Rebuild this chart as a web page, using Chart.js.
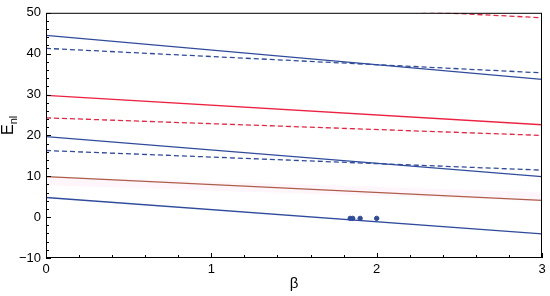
<!DOCTYPE html>
<html>
<head>
<meta charset="utf-8">
<script src="https://cdn.jsdelivr.net/npm/chart.js@4"></script>
<style>
  html, body { margin: 0; padding: 0; background: #fff; }
  #wrap { width: 550px; height: 296px; }
</style>
</head>
<body>
<div id="wrap"><canvas id="chart"></canvas></div>
<script>
// Data: each level is a straight line from beta=0 to beta=3
const BETA = [0, 3];
const BLUE_1 = [44.5, 33.7];
const BLUE_1_DASH = [41.3, 35.3];
const RED_1 = [29.8, 22.6];
const RED_1_DASH = [24.3, 20.0];
const BLUE_2 = [19.7, 9.9];
const BLUE_2_DASH = [16.3, 11.5];
const BROWN = [9.9, 4.1];
const BLUE_3 = [4.8, -4.1];
const RED_TOP_DASH = [54.8, 48.8];
const PINK_BAND = [8.9, 5.0];

// Scattered points near beta ~ 1.85 .. 2
const DOT_BETA = [1.84, 1.855, 1.9, 2.0];
const DOT_E = [-0.3, -0.3, -0.3, -0.3];

const X_LABELS = [0, 1, 2, 3];
const Y_LABELS = [-10, 0, 10, 20, 30, 40, 50];

const BLUE = '#2f4b9b';
const RED = '#ec2240';
const BROWN_COLOR = '#a6573a';
const FONT = 'Liberation Sans, Arial, Helvetica, sans-serif';

function toPoints(ys) {
    return BETA.map((b, i) => ({ x: b, y: ys[i] }));
}

function lineSet(ys, color, dashed) {
    return {
        type: 'line',
        data: toPoints(ys),
        borderColor: color,
        borderWidth: 1.3,
        borderDash: dashed ? [5, 3] : [],
        pointRadius: 0,
        fill: false
    };
}

// ======================
// Frame, inward ticks and axis titles
// ======================
const framePlugin = {
    id: 'frame',
    afterDraw(chart) {
        const { ctx, chartArea: a, scales } = chart;
        ctx.save();
        ctx.strokeStyle = '#000';
        ctx.lineWidth = 1;
        ctx.strokeRect(a.left + 0.5, a.top + 0.5, a.right - a.left - 1, a.bottom - a.top - 1);

        // x ticks every 0.2, bigger on integers
        for (let i = 0; i <= 15; i++) {
            const v = i * 0.2;
            const px = Math.round(scales.x.getPixelForValue(v)) + 0.5;
            const len = i % 5 === 0 ? 5 : 3;
            ctx.beginPath();
            ctx.moveTo(px, a.bottom);
            ctx.lineTo(px, a.bottom - len);
            ctx.stroke();
        }
        // y ticks every 2, bigger on tens
        for (let v = -10; v <= 50; v += 2) {
            const py = Math.round(scales.y.getPixelForValue(v)) + 0.5;
            const len = v % 10 === 0 ? 5 : 3;
            ctx.beginPath();
            ctx.moveTo(a.left, py);
            ctx.lineTo(a.left + len, py);
            ctx.stroke();
        }

        // axis titles
        ctx.fillStyle = '#000';
        ctx.textAlign = 'center';
        ctx.textBaseline = 'middle';
        ctx.font = '15px ' + FONT;
        ctx.fillText('\u03B2', (a.left + a.right) / 2, 284);

        ctx.translate(9, 135);
        ctx.rotate(-Math.PI / 2);
        ctx.textAlign = 'left';
        ctx.font = '16px ' + FONT;
        const wE = ctx.measureText('E').width;
        ctx.fillText('E', 0, 0);
        ctx.font = '11px ' + FONT;
        ctx.fillText('nl', wE, 5);
        ctx.restore();
    }
};

new Chart(document.getElementById('chart'), {
    type: 'line',
    data: {
        datasets: [
            {
                type: 'line',
                data: toPoints(PINK_BAND),
                borderColor: 'rgba(255, 150, 220, 0.09)',
                borderWidth: 9,
                pointRadius: 0
            },
            lineSet(RED_TOP_DASH, RED, true),
            lineSet(BLUE_1, BLUE, false),
            lineSet(BLUE_1_DASH, BLUE, true),
            lineSet(RED_1, RED, false),
            lineSet(RED_1_DASH, RED, true),
            lineSet(BLUE_2, BLUE, false),
            lineSet(BLUE_2_DASH, BLUE, true),
            lineSet(BROWN, BROWN_COLOR, false),
            lineSet(BLUE_3, BLUE, false),
            {
                type: 'scatter',
                data: DOT_BETA.map((b, i) => ({ x: b, y: DOT_E[i] })),
                backgroundColor: BLUE,
                borderColor: BLUE,
                pointRadius: 2.2,
                showLine: false
            }
        ]
    },
    options: {
        responsive: true,
        maintainAspectRatio: false,
        animation: false,
        layout: { padding: { top: 9, right: 8, left: 0, bottom: 0 } },
        plugins: {
            legend: { display: false },
            tooltip: { enabled: false }
        },
        scales: {
            x: {
                type: 'linear',
                min: 0,
                max: 3,
                grid: { display: false, drawTicks: false, tickLength: 0 },
                border: { display: false },
                afterFit(scale) { scale.height = 38; },
                ticks: {
                    stepSize: 0.2,
                    autoSkip: false,
                    maxRotation: 0,
                    padding: 4,
                    color: '#000',
                    font: { family: FONT, size: 13 },
                    callback: (v) => {
                        const r = Math.round(v);
                        return Math.abs(v - r) < 1e-6 && X_LABELS.includes(r) ? String(r) : '';
                    }
                }
            },
            y: {
                type: 'linear',
                min: -10,
                max: 50,
                grid: { display: false, drawTicks: false, tickLength: 0 },
                border: { display: false },
                afterFit(scale) { scale.width = 46; },
                ticks: {
                    stepSize: 2,
                    autoSkip: false,
                    padding: 5,
                    color: '#000',
                    font: { family: FONT, size: 13 },
                    callback: (v) => Y_LABELS.includes(v) ? (v < 0 ? '\u2212' + Math.abs(v) : String(v)) : ''
                }
            }
        }
    },
    plugins: [framePlugin]
});
</script>
</body>
</html>
